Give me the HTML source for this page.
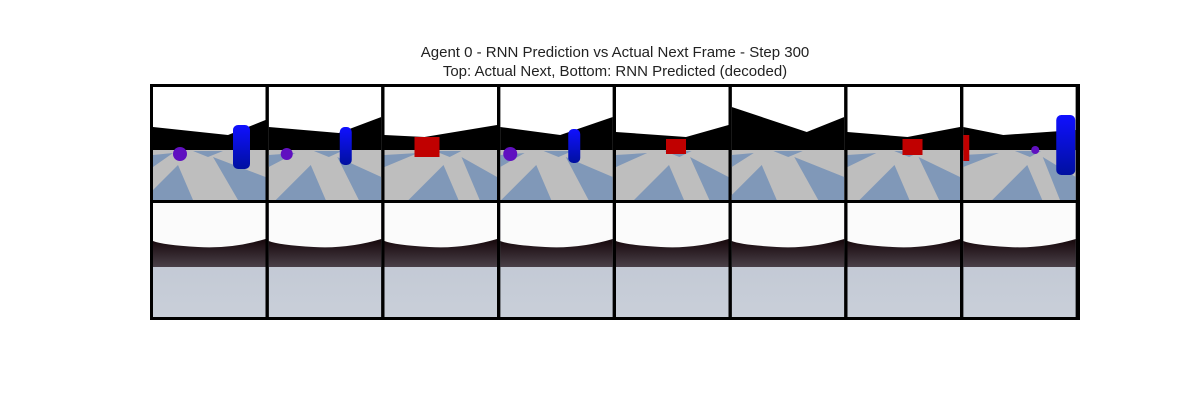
<!DOCTYPE html>
<html><head><meta charset="utf-8"><style>
body{margin:0;background:#fff;width:1200px;height:400px;overflow:hidden;font-family:"Liberation Sans",sans-serif}
</style></head><body>
<svg width="1200" height="400" xmlns="http://www.w3.org/2000/svg">
<defs>
<linearGradient id="cyl" x1="0" y1="0" x2="0" y2="1"><stop offset="0" stop-color="#1010ff"/><stop offset="1" stop-color="#0010a0"/></linearGradient>
<linearGradient id="dark" x1="0" y1="0" x2="0" y2="1"><stop offset="0" stop-color="#2a1a1c"/><stop offset="0.6" stop-color="#1a0c10"/><stop offset="1" stop-color="#4a4048"/></linearGradient>
<linearGradient id="floorg" x1="0" y1="0" x2="0" y2="1"><stop offset="0" stop-color="#bcc3d0"/><stop offset="1" stop-color="#c9cfd9"/></linearGradient>
<clipPath id="cc"><rect x="0" y="0" width="112.5" height="114"/></clipPath>
</defs>
<text x="615" y="57" text-anchor="middle" font-size="15" fill="#222">Agent 0 - RNN Prediction vs Actual Next Frame - Step 300</text>
<text x="615" y="76" text-anchor="middle" font-size="15" fill="#222">Top: Actual Next, Bottom: RNN Predicted (decoded)</text>
<g id="grid"></g>
</svg>
<script>
// wall top profile per frame: left y, dip x, dip y, right y
const wallLeft=[40,40,48,40,45,20,45,40];
const wallDipX=[75,70,40,60,70,75,60,40];
const wallDipY=[48,46,50,48,50,45,50,48];
const wallRight=[33,30,38,30,38,30,40,43];
// objects: type, x, y, w, h (local)
const objects=[
 [['ball',27,67,7],['cyl',80,38,17,44]],
 [['ball',18,67,6],['cyl',71,40,12,38]],
 [['cube',30,50,25,20]],
 [['ball',10,67,7],['cyl',68,42,12,34]],
 [['cube',50,52,20,15]],
 [],
 [['cube',55,52,20,16]],
 [['cube',0,48,6,26],['ball',72,63,4],['cyl',93,28,19,60]]
];
const g=document.getElementById('grid');
const NS='http://www.w3.org/2000/svg';
function el(t,a,p){const e=document.createElementNS(NS,t);for(const k in a)e.setAttribute(k,a[k]);(p||g).appendChild(e);return e;}
const pitch=115.75,cw=112.5;
el('rect',{x:150,y:84,width:930,height:236,fill:'#000'});
for(let i=0;i<wallLeft.length;i++){
  const x0=153+i*pitch,y0=87;
  const cell=el('g',{transform:`translate(${x0},${y0})`,'clip-path':'url(#cc)'});
  
  
  el('rect',{x:0,y:0,width:cw,height:113,fill:'#fff'},cell);
  el('polygon',{points:`0,${wallLeft[i]} ${wallDipX[i]},${wallDipY[i]} ${cw},${wallRight[i]} ${cw},64 0,64`,fill:'#000'},cell);
  el('rect',{x:0,y:63,width:cw,height:50,fill:'#bebebe'},cell);
  const s=(i*17)%40;
  el('polygon',{points:`${-10+s},113 ${40+s},113 ${25+s},78`,fill:'#8098b8'},cell);
  el('polygon',{points:`${60+s*0.5},70 ${cw},90 ${cw},113 ${85+s*0.3},113`,fill:'#8098b8'},cell);
  el('polygon',{points:`0,68 ${20+s*0.4},66 0,80`,fill:'#8098b8'},cell);
  el('polygon',{points:`${40+s*0.3},64 ${70+s*0.2},64 ${55+s*0.3},70`,fill:'#8098b8'},cell);
  for(const o of objects[i]){
    if(o[0]==='ball')el('circle',{cx:o[1],cy:o[2],r:o[3],fill:'#6010c0'},cell);
    else if(o[0]==='cyl')el('rect',{x:o[1],y:o[2],width:o[3],height:o[4],rx:5,fill:'url(#cyl)'},cell);
    else el('rect',{x:o[1],y:o[2],width:o[3],height:o[4],fill:'#c00000'},cell);
  }
  const b=el('g',{transform:`translate(${x0},203)`,'clip-path':'url(#cc)'});
  
  
  el('rect',{x:0,y:0,width:cw,height:114,fill:'url(#floorg)'},b);
  el('rect',{x:0,y:0,width:cw,height:64,fill:'url(#dark)'},b);
  el('path',{d:`M0,0 H${cw} V36 Q${cw*0.7},46 ${cw*0.4},44 Q10,42 0,38 Z`,fill:'#fbfbfb'},b);
}
</script>
</body></html>
